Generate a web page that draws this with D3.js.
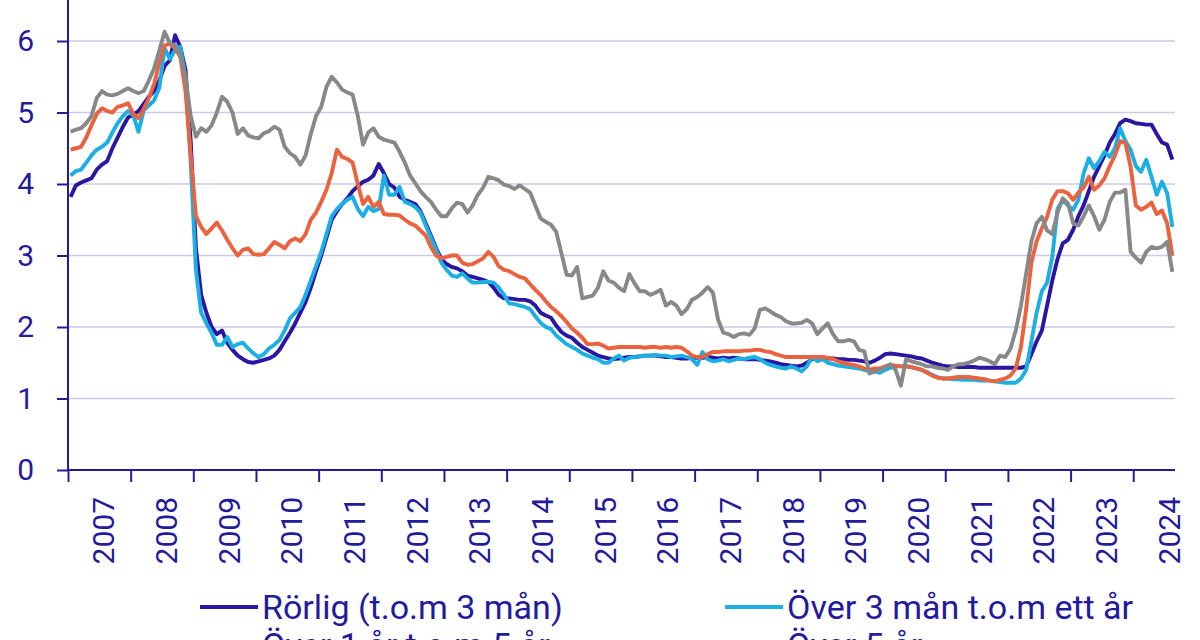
<!DOCTYPE html>
<html><head><meta charset="utf-8">
<script src="https://cdn.jsdelivr.net/npm/d3@7"></script>
<style>
html,body{margin:0;padding:0;background:#fff;}
svg{display:block;font-family:Roboto,"Noto Sans",sans-serif;}
</style></head>
<body><svg id="c" width="1200" height="640"></svg>
<script>
// Years on the axis (monthly data Jan 2007 – Aug 2024)
const years = [2007,2008,2009,2010,2011,2012,2013,2014,2015,2016,2017,2018,2019,2020,2021,2022,2023,2024];
const yTicks = [0,1,2,3,4,5,6];
const seriesNames = ["Rörlig (t.o.m 3 mån)","Över 3 mån t.o.m ett år","Över 1 år t.o.m 5 år","Över 5 år"];

const rorlig = [
3.82,3.98,4.02,4.05,4.08,4.2,4.27,4.32,4.5,4.65,4.8,4.93,
4.97,5.02,5.12,5.22,5.3,5.45,5.65,5.73,6.08,5.92,5.6,4.6,
3.1,2.45,2.2,2.0,1.9,1.95,1.78,1.68,1.6,1.55,1.51,1.5,
1.52,1.54,1.56,1.6,1.68,1.8,1.92,2.05,2.2,2.35,2.55,2.78,
3.0,3.25,3.5,3.62,3.72,3.8,3.9,3.97,4.03,4.06,4.12,4.28,
4.15,4.0,3.95,3.82,3.78,3.75,3.72,3.62,3.45,3.28,3.1,2.95,
2.88,2.84,2.82,2.78,2.72,2.7,2.68,2.66,2.63,2.55,2.45,2.4,
2.4,2.39,2.38,2.38,2.36,2.3,2.2,2.16,2.13,2.02,1.93,1.88,
1.85,1.78,1.72,1.68,1.64,1.6,1.58,1.56,1.55,1.56,1.57,1.58,
1.58,1.59,1.6,1.6,1.6,1.59,1.58,1.58,1.57,1.56,1.56,1.57,
1.57,1.57,1.58,1.57,1.56,1.57,1.56,1.57,1.56,1.55,1.55,1.55,
1.54,1.53,1.52,1.5,1.48,1.47,1.46,1.45,1.46,1.5,1.55,1.57,
1.57,1.56,1.56,1.55,1.55,1.54,1.54,1.53,1.52,1.5,1.53,1.57,
1.62,1.63,1.62,1.61,1.6,1.59,1.57,1.56,1.53,1.5,1.48,1.46,
1.45,1.45,1.44,1.44,1.44,1.44,1.43,1.43,1.43,1.43,1.43,1.43,
1.43,1.43,1.43,1.45,1.62,1.8,1.95,2.3,2.65,2.95,3.17,3.22,
3.36,3.55,3.7,3.9,4.1,4.25,4.4,4.58,4.7,4.85,4.9,4.88,
4.85,4.84,4.83,4.83,4.7,4.58,4.55,4.34];

const over3m = [
4.12,4.18,4.2,4.3,4.4,4.48,4.52,4.58,4.72,4.85,4.95,5.02,
4.96,4.73,5.03,5.1,5.17,5.35,5.9,5.75,5.87,5.92,5.5,4.3,
2.8,2.2,2.05,1.92,1.75,1.75,1.86,1.72,1.76,1.78,1.7,1.63,
1.58,1.62,1.7,1.75,1.82,1.95,2.12,2.2,2.28,2.45,2.65,2.85,
3.05,3.3,3.55,3.65,3.72,3.78,3.82,3.65,3.55,3.68,3.62,3.65,
4.12,3.85,3.85,3.96,3.75,3.72,3.68,3.6,3.42,3.25,3.08,2.9,
2.8,2.72,2.7,2.75,2.68,2.62,2.62,2.63,2.63,2.62,2.55,2.45,
2.33,2.32,2.3,2.28,2.25,2.15,2.06,2.0,1.97,1.88,1.82,1.76,
1.72,1.68,1.63,1.6,1.57,1.55,1.5,1.5,1.56,1.6,1.53,1.57,
1.58,1.59,1.6,1.6,1.61,1.6,1.6,1.58,1.59,1.6,1.58,1.55,
1.47,1.65,1.55,1.52,1.53,1.55,1.52,1.54,1.56,1.55,1.57,1.58,
1.55,1.5,1.47,1.45,1.43,1.42,1.45,1.42,1.38,1.45,1.58,1.52,
1.55,1.5,1.48,1.46,1.45,1.44,1.43,1.42,1.4,1.38,1.38,1.36,
1.4,1.43,1.45,1.45,1.45,1.44,1.42,1.4,1.37,1.33,1.3,1.28,
1.28,1.27,1.27,1.26,1.26,1.26,1.25,1.25,1.25,1.24,1.23,1.22,
1.22,1.22,1.28,1.4,1.8,2.2,2.5,2.62,2.98,3.65,3.78,3.7,
3.64,3.78,4.15,4.36,4.22,4.32,4.45,4.38,4.5,4.78,4.6,4.48,
4.25,4.17,4.34,4.1,3.85,4.03,3.87,3.4];

const over1to5 = [
4.48,4.5,4.52,4.65,4.82,4.98,5.06,5.02,5.0,5.08,5.1,5.13,
4.98,4.92,5.05,5.2,5.4,5.7,5.94,5.96,5.9,5.78,5.3,4.4,
3.55,3.4,3.3,3.38,3.46,3.35,3.22,3.1,3.0,3.08,3.1,3.02,
3.01,3.02,3.1,3.19,3.15,3.1,3.2,3.24,3.2,3.3,3.5,3.6,
3.75,3.92,4.15,4.48,4.38,4.35,4.3,4.0,3.72,3.82,3.68,3.75,
3.58,3.57,3.57,3.56,3.5,3.45,3.42,3.35,3.28,3.12,3.0,2.96,
2.98,3.0,3.0,2.9,2.87,2.88,2.92,2.96,3.05,2.98,2.85,2.8,
2.78,2.74,2.7,2.68,2.6,2.52,2.45,2.36,2.28,2.22,2.15,2.07,
1.98,1.92,1.85,1.76,1.76,1.77,1.74,1.7,1.71,1.72,1.72,1.72,
1.72,1.72,1.71,1.72,1.72,1.71,1.72,1.71,1.72,1.71,1.66,1.6,
1.58,1.58,1.62,1.65,1.65,1.66,1.66,1.66,1.66,1.67,1.67,1.68,
1.68,1.66,1.65,1.62,1.6,1.58,1.58,1.58,1.58,1.58,1.58,1.58,
1.58,1.57,1.55,1.52,1.5,1.48,1.47,1.45,1.42,1.4,1.42,1.42,
1.45,1.47,1.46,1.45,1.45,1.44,1.42,1.4,1.36,1.32,1.29,1.28,
1.28,1.29,1.3,1.3,1.3,1.29,1.28,1.27,1.25,1.24,1.26,1.28,
1.32,1.42,1.72,2.25,2.9,3.2,3.38,3.54,3.78,3.9,3.9,3.87,
3.78,3.88,3.95,4.1,3.92,3.98,4.08,4.25,4.4,4.6,4.57,4.24,
3.7,3.64,3.68,3.74,3.58,3.63,3.45,3.0];

const over5 = [
4.73,4.76,4.78,4.85,4.95,5.2,5.3,5.25,5.24,5.26,5.3,5.34,
5.3,5.27,5.3,5.45,5.62,5.87,6.13,5.97,5.94,5.8,5.5,4.95,
4.66,4.78,4.73,4.82,5.0,5.22,5.15,5.0,4.7,4.78,4.68,4.65,
4.64,4.71,4.74,4.8,4.76,4.52,4.43,4.38,4.27,4.4,4.7,4.95,
5.08,5.36,5.5,5.42,5.32,5.28,5.25,4.95,4.55,4.72,4.78,4.66,
4.62,4.6,4.58,4.45,4.3,4.12,4.01,3.9,3.82,3.75,3.64,3.55,
3.55,3.66,3.74,3.72,3.6,3.7,3.85,3.95,4.1,4.08,4.05,3.99,
3.97,3.93,3.98,3.93,3.88,3.7,3.52,3.47,3.43,3.33,3.03,2.73,
2.72,2.84,2.4,2.42,2.44,2.55,2.78,2.65,2.62,2.55,2.5,2.74,
2.61,2.5,2.5,2.45,2.48,2.52,2.3,2.35,2.3,2.18,2.25,2.38,
2.42,2.48,2.56,2.48,2.1,1.92,1.9,1.86,1.9,1.91,1.89,1.98,
2.24,2.26,2.22,2.17,2.14,2.08,2.05,2.05,2.06,2.1,2.05,1.9,
1.98,2.05,1.9,1.8,1.8,1.82,1.8,1.68,1.66,1.35,1.38,1.4,
1.44,1.48,1.4,1.18,1.55,1.52,1.5,1.48,1.45,1.45,1.43,1.42,
1.4,1.45,1.48,1.48,1.5,1.53,1.57,1.55,1.52,1.48,1.6,1.58,
1.7,1.95,2.3,2.75,3.2,3.45,3.54,3.35,3.3,3.6,3.8,3.73,
3.45,3.42,3.55,3.7,3.55,3.36,3.5,3.75,3.88,3.88,3.92,3.05,
2.97,2.9,3.05,3.12,3.1,3.12,3.19,2.77];

const seriesValues = [rorlig, over3m, over1to5, over5];
const colors = ["#2a16a3","#1cafe3","#ea633e","#888888"];
const ink = "#231b9c";

const svg = d3.select("#c");
svg.append("rect").attr("width",1200).attr("height",640).attr("fill","#fff");

const nMonths = 212;
const x = d3.scaleLinear().domain([0, nMonths]).range([68, 1175]);
const y = d3.scaleLinear().domain([0, 6]).range([470, 41]);

// grid
svg.append("g").selectAll("line").data(yTicks.filter(d=>d>0)).join("line")
  .attr("x1", x(0)).attr("x2", x(nMonths))
  .attr("y1", d=>y(d)).attr("y2", d=>y(d))
  .attr("stroke", "#cacaea").attr("stroke-width", 1.5);

// lines
const line = d3.line().x((d,i)=>x(i+0.5)).y(d=>y(d)).curve(d3.curveLinear);
svg.append("g").selectAll("path").data(seriesValues).join("path")
  .attr("d", d=>line(d))
  .attr("fill","none")
  .attr("stroke",(d,i)=>colors[i])
  .attr("stroke-width",3.9)
  .attr("stroke-linejoin","round");

// y axis
const yAxis = svg.append("g").attr("transform","translate(68,0)")
  .call(d3.axisLeft(y).tickValues(yTicks).tickSize(11).tickPadding(23).tickFormat(d3.format("d")));
yAxis.select(".domain").attr("d","M0,0V470").attr("stroke",ink).attr("stroke-width",2);
yAxis.selectAll(".tick line").attr("stroke",ink).attr("stroke-width",2);
yAxis.selectAll(".tick text").attr("fill",ink).style("font-size","30px").style("font-family","Roboto");

// x axis
const yearTickVals = years.map((yr,i)=>i*12);
const xAxis = svg.append("g").attr("transform","translate(0,470)")
  .call(d3.axisBottom(x).tickValues(yearTickVals).tickSize(12).tickFormat(""));
xAxis.select(".domain").attr("d",`M${x(0)},0H${x(nMonths)}`).attr("stroke",ink).attr("stroke-width",2);
xAxis.selectAll(".tick line").attr("stroke",ink).attr("stroke-width",2);

svg.append("g").selectAll("text").data(years).join("text")
  .attr("transform",(d,i)=>`translate(${x(i*12+6)+4.5},497) rotate(-90)`)
  .attr("text-anchor","end").attr("dy","0.355em")
  .attr("fill",ink).style("font-size","30px")
  .text(d=>d);

// legend
const legendPos = [[200,607],[725,607],[200,645],[725,645]];
const lg = svg.append("g").selectAll("g").data(seriesNames).join("g")
  .attr("transform",(d,i)=>`translate(${legendPos[i][0]},${legendPos[i][1]})`);
lg.append("line").attr("x1",0).attr("x2",58).attr("y1",0).attr("y2",0)
  .attr("stroke",(d,i)=>colors[i]).attr("stroke-width",4);
lg.append("text").attr("x",62).attr("dy","0.355em")
  .attr("fill",ink).style("font-size","34px").text(d=>d);
</script></body></html>
